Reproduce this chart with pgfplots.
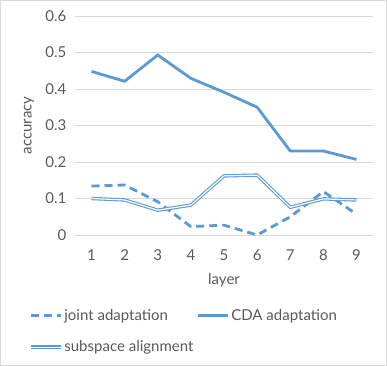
\documentclass[border=0pt]{standalone}
\usepackage{fontspec}
\setmainfont{Lato}
\usepackage{pgfplots}
\pgfplotsset{compat=1.18}
\definecolor{LineBlue}{RGB}{91,155,213}
\definecolor{TextGray}{RGB}{89,89,89}
\definecolor{GridGray}{RGB}{217,217,217}
\begin{document}
\begin{tikzpicture}
\begin{axis}[
  name=ax, at={(0,0)}, anchor=south west,
  scale only axis, width=298pt, height=219pt,
  xmin=0.5, xmax=9.5, ymin=0, ymax=0.6,
  xtick={1,...,9}, ytick={0,0.1,...,0.6},
  yticklabel style={/pgf/number format/fixed, /pgf/number format/precision=1},
  /pgf/number format/assume math mode=true,
  axis line style={draw=none}, major tick length=0pt,
  ymajorgrids, grid style={GridGray, line width=0.8pt},
  tick label style={font=\fontsize{15}{17}\selectfont, text=TextGray},
  label style={font=\fontsize{15}{17}\selectfont, text=TextGray},
  xlabel={layer}, ylabel={accuracy},
  xlabel style={at={(axis description cs:0.5,0)}, anchor=center, yshift=-45pt},
  ylabel style={at={(axis description cs:-0.154,0.5)}, anchor=center},
  yticklabel style={xshift=-5pt}, xticklabel style={yshift=-11pt},
  clip=false,
  legend columns=2,
  legend cell align=left,
  legend style={draw=none, fill=none, font=\fontsize{15}{17}\selectfont, text=TextGray,
    at={(axis description cs:-0.165,-0.32)}, anchor=north west,
    row sep=15pt,
    /tikz/every even column/.append style={column sep=1pt}},
  legend image code/.code={\draw[#1] (0pt,0pt) -- (30pt,0pt);},
]
\addplot[LineBlue, line width=2.8pt, dash pattern=on 8pt off 5pt] coordinates {
  (1,0.134) (2,0.137) (3,0.091) (4,0.023) (5,0.027) (6,0.0) (7,0.05) (8,0.119) (9,0.057)
};
\addlegendentry{joint adaptation}
\addplot[LineBlue, line width=2.8pt] coordinates {
  (1,0.448) (2,0.421) (3,0.493) (4,0.429) (5,0.391) (6,0.35) (7,0.23) (8,0.23) (9,0.207)
};
\addlegendentry{CDA adaptation}
\addplot[LineBlue, line width=1.1pt, double=white, double distance=1.2pt] coordinates {
  (1,0.100) (2,0.096) (3,0.068) (4,0.082) (5,0.162) (6,0.164) (7,0.076) (8,0.099) (9,0.096)
};
\addlegendentry{subspace alignment}
\end{axis}
\draw[GridGray, line width=0.8pt] (-74.5pt,-130.5pt) rectangle (311.5pt,234.5pt);
\end{tikzpicture}
\end{document}
